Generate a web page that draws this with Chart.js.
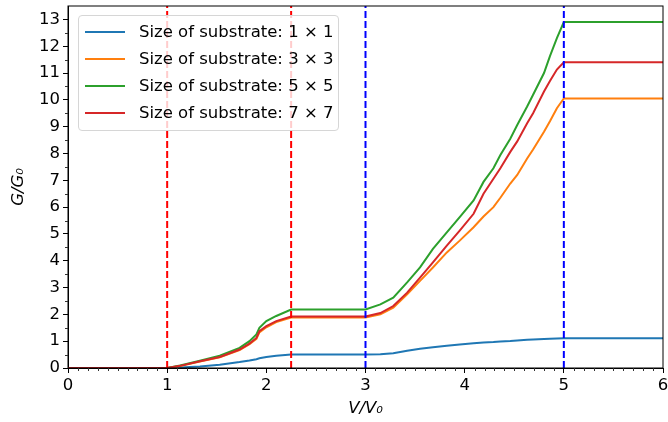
<!DOCTYPE html>
<html>
<head>
<meta charset="utf-8">
<script src="https://cdn.jsdelivr.net/npm/chart.js@4.4.0/dist/chart.umd.min.js"></script>
<style>
    body { margin: 0; background: #fff; }
    #wrap { position: relative; width: 668px; height: 422px; }
    #legend {
        position: absolute; left: 78px; top: 15px; width: 259px; height: 114px;
        border: 1px solid #d6d6d6; border-radius: 4px; background: rgba(255, 255, 255, 0.8);
        font-family: "DejaVu Sans", sans-serif; font-size: 16.5px; color: #000;
    }
    .row { position: absolute; left: 0; height: 20px; line-height: 20px; white-space: nowrap; }
    .row span.ln { position: absolute; left: 6px; top: 9px; width: 40px; height: 2px; }
    .row span.tx { position: absolute; left: 60px; top: 0; }
</style>
</head>
<body>
<div id="wrap">
    <canvas id="chart" width="668" height="422"></canvas>
    <div id="legend"></div>
</div>
<script>
// V/V0 sample positions shared by all series
const xs = [0, 1.0, 1.13, 1.33, 1.53, 1.73, 1.83, 1.9, 1.93, 2.0, 2.1, 2.25,
    3.0, 3.15, 3.28, 3.42, 3.55, 3.68, 3.82, 3.95, 4.09, 4.19, 4.29, 4.36, 4.46,
    4.53, 4.63, 4.69, 4.8, 4.86, 4.93, 5.0, 6.0];

const g1x1 = [0, 0, 0.02, 0.06, 0.12, 0.22, 0.28, 0.33, 0.36, 0.41, 0.46, 0.5,
    0.5, 0.51, 0.55, 0.64, 0.72, 0.77, 0.83, 0.88, 0.92, 0.95, 0.97, 0.99, 1.01,
    1.03, 1.05, 1.06, 1.08, 1.09, 1.1, 1.11, 1.11];
const g3x3 = [0, 0, 0.07, 0.24, 0.4, 0.67, 0.89, 1.09, 1.33, 1.52, 1.71, 1.88,
    1.88, 2.0, 2.25, 2.75, 3.25, 3.75, 4.31, 4.75, 5.25, 5.65, 6.0, 6.35, 6.88,
    7.2, 7.81, 8.15, 8.81, 9.2, 9.69, 10.05, 10.05];
const g5x5 = [0, 0, 0.09, 0.27, 0.46, 0.75, 1.0, 1.25, 1.5, 1.75, 1.94, 2.18,
    2.18, 2.37, 2.62, 3.19, 3.75, 4.44, 5.06, 5.63, 6.25, 6.94, 7.45, 7.94, 8.55,
    9.06, 9.75, 10.19, 11.0, 11.63, 12.3, 12.9, 12.9];
const g7x7 = [0, 0, 0.08, 0.25, 0.41, 0.69, 0.91, 1.12, 1.37, 1.56, 1.75, 1.92,
    1.92, 2.05, 2.31, 2.81, 3.37, 3.94, 4.56, 5.12, 5.75, 6.5, 7.06, 7.45, 8.06,
    8.45, 9.13, 9.5, 10.31, 10.7, 11.13, 11.4, 11.4];

const seriesLabels = ['Size of substrate: 1 × 1', 'Size of substrate: 3 × 3',
    'Size of substrate: 5 × 5', 'Size of substrate: 7 × 7'];
const seriesColors = ['#1f77b4', '#ff7f0e', '#2ca02c', '#d62728'];

// dashed markers
const redLines = [1, 2.25];
const blueLines = [3, 5];

const xTicks = [0, 1, 2, 3, 4, 5, 6];
const yTicks = [0, 1, 2, 3, 4, 5, 6, 7, 8, 9, 10, 11, 12, 13];
const Y_MAX = 13.5;

const FONT = { family: 'DejaVu Sans', size: 16.5 };

function pts(ys) {
    return xs.map((x, i) => ({ x: x, y: ys[i] }));
}

const curves = [g1x1, g3x3, g5x5, g7x7].map((ys, i) => ({
    label: seriesLabels[i],
    data: pts(ys),
    borderColor: seriesColors[i],
    borderWidth: 2,
    pointRadius: 0,
    tension: 0,
    order: 10 - i
}));

function vline(x, color) {
    return {
        label: 'v' + x,
        data: [{ x: x, y: 0 }, { x: x, y: Y_MAX }],
        borderColor: color,
        borderWidth: 2,
        borderDash: [7, 3],
        pointRadius: 0,
        order: 0
    };
}

const datasets = curves
    .concat(redLines.map(x => vline(x, '#ff0000')))
    .concat(blueLines.map(x => vline(x, '#0000ff')));

// frame on all four sides plus matplotlib-like minor ticks
const framePlugin = {
    id: 'frame',
    afterDraw(chart) {
        const { ctx, chartArea: a, scales } = chart;
        ctx.save();
        ctx.strokeStyle = '#000';
        ctx.lineWidth = 1;
        ctx.strokeRect(a.left, a.top, a.right - a.left, a.bottom - a.top);
        ctx.strokeStyle = '#333';
        ctx.beginPath();
        for (let i = 1; i < 60; i++) {
            if (i % 10 === 0) continue;
            const px = Math.round(scales.x.getPixelForValue(i / 10)) + 0.5;
            ctx.moveTo(px, a.bottom);
            ctx.lineTo(px, a.bottom + 3);
        }
        for (let v = 0.5; v < Y_MAX; v += 1) {
            const py = Math.round(scales.y.getPixelForValue(v)) + 0.5;
            ctx.moveTo(a.left, py);
            ctx.lineTo(a.left - 3, py);
        }
        ctx.stroke();
        ctx.restore();
    }
};

new Chart(document.getElementById('chart'), {
    type: 'line',
    data: { datasets: datasets },
    plugins: [framePlugin],
    options: {
        responsive: false,
        animation: false,
        layout: { padding: { top: 6, right: 5, left: 0, bottom: 0 } },
        plugins: { legend: { display: false }, tooltip: { enabled: false } },
        scales: {
            x: {
                type: 'linear',
                min: 0,
                max: 6,
                afterBuildTicks: s => { s.ticks = xTicks.map(v => ({ value: v })); },
                afterFit: s => { s.height = 54; s.paddingLeft = 0; s.paddingRight = 0; },
                ticks: { font: FONT, color: '#000', padding: 3, maxRotation: 0 },
                grid: { drawOnChartArea: false, tickLength: 5, tickColor: '#000' },
                border: { color: '#000' },
                title: {
                    display: true,
                    text: 'V/V₀',
                    font: { family: 'DejaVu Sans', size: 16.5, style: 'italic' },
                    color: '#000',
                    padding: { top: 0, bottom: 3 }
                }
            },
            y: {
                min: 0,
                max: Y_MAX,
                afterBuildTicks: s => { s.ticks = yTicks.map(v => ({ value: v })); },
                afterFit: s => { s.width = 68; s.paddingTop = 0; s.paddingBottom = 0; },
                ticks: { font: FONT, color: '#000', padding: 3 },
                grid: { drawOnChartArea: false, tickLength: 5, tickColor: '#000' },
                border: { color: '#000' },
                title: {
                    display: true,
                    text: 'G/G₀',
                    font: { family: 'DejaVu Sans', size: 16.5, style: 'italic' },
                    color: '#000',
                    padding: { top: 9, bottom: 0 }
                }
            }
        }
    }
});

// legend box drawn in HTML, top-left inside the plot
const legend = document.getElementById('legend');
seriesLabels.forEach((lab, i) => {
    const row = document.createElement('div');
    row.className = 'row';
    row.style.top = (6 + i * 27) + 'px';
    row.innerHTML = '<span class="ln" style="background:' + seriesColors[i] + '"></span>' +
        '<span class="tx">' + lab + '</span>';
    legend.appendChild(row);
});
</script>
</body>
</html>
